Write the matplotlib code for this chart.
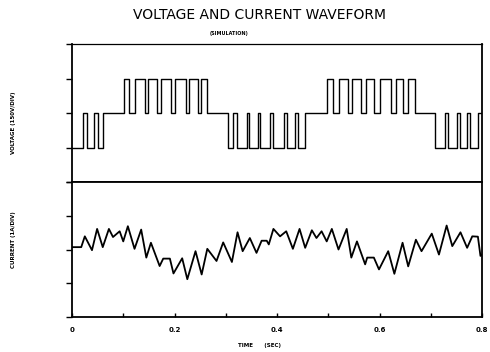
import numpy as np
import matplotlib
matplotlib.use("Agg")
import matplotlib.pyplot as plt

# voltage: switching instants (s) and level after each instant (divisions from centre)
volt_t = [0.000, 0.021, 0.029, 0.042, 0.051, 0.060, 0.101, 0.111, 0.122, 0.142,
          0.148, 0.166, 0.174, 0.193, 0.201, 0.222, 0.228, 0.246, 0.252, 0.263,
          0.3045, 0.314, 0.322, 0.341, 0.345, 0.363, 0.367, 0.386, 0.392, 0.414,
          0.419, 0.435, 0.441, 0.455, 0.498, 0.510, 0.521, 0.539, 0.546, 0.564,
          0.574, 0.589, 0.601, 0.622, 0.632, 0.646, 0.655, 0.669, 0.708, 0.728,
          0.734, 0.752, 0.757, 0.771, 0.777, 0.793, 0.800]
volt_v = [-1, 0, -1, 0, -1, 0, 1, 0, 1, 0,
          1, 0, 1, 0, 1, 0, 1, 0, 1, 0,
          -1, 0, -1, 0, -1, 0, -1, 0, -1, 0,
          -1, 0, -1, 0, 1, 0, 1, 0, 1, 0,
          1, 0, 1, 0, 1, 0, 1, 0, -1, 0,
          -1, 0, -1, 0, -1, 0, 0]

# current: sampled corners of the trace (s, divisions)
cur_t = [0.000, 0.018, 0.025, 0.039, 0.049, 0.060, 0.072, 0.080, 0.093, 0.100,
         0.109, 0.122, 0.135, 0.145, 0.154, 0.171, 0.178, 0.191, 0.198, 0.215,
         0.225, 0.241, 0.253, 0.264, 0.282, 0.295, 0.312, 0.323, 0.333, 0.347,
         0.360, 0.370, 0.380, 0.384, 0.393, 0.406, 0.418, 0.431, 0.444, 0.455,
         0.468, 0.477, 0.487, 0.497, 0.507, 0.520, 0.536, 0.545, 0.556, 0.572,
         0.576, 0.589, 0.599, 0.617, 0.629, 0.645, 0.656, 0.671, 0.682, 0.702,
         0.716, 0.731, 0.742, 0.758, 0.771, 0.781, 0.792, 0.797, 0.800]
cur_v = [0.07, 0.07, 0.39, -0.02, 0.61, 0.07, 0.61, 0.37, 0.54, 0.24,
         0.69, 0.02, 0.59, -0.24, 0.20, -0.49, -0.27, -0.27, -0.71, -0.26,
         -0.88, -0.05, -0.74, 0.02, -0.34, 0.21, -0.37, 0.51, -0.05, 0.34,
         -0.10, 0.26, 0.26, 0.15, 0.61, 0.39, 0.54, 0.02, 0.61, 0.05,
         0.57, 0.34, 0.54, 0.24, 0.61, 0.00, 0.61, -0.24, 0.24, -0.44,
         -0.24, -0.24, -0.59, -0.05, -0.72, 0.20, -0.50, 0.29, -0.05, 0.47,
         -0.15, 0.71, 0.10, 0.51, 0.05, 0.39, 0.38, -0.19, -0.15]

x_ticks = [0, 0.2, 0.4, 0.6, 0.8]
x_labels = ["0", "0.2", "0.4", "0.6", "0.8"]

W, H = 490, 352
fig = plt.figure(figsize=(W / 100, H / 100), dpi=100)
ax1 = fig.add_axes([72 / W, (H - 182) / H, 410 / W, 138 / H])
ax2 = fig.add_axes([72 / W, (H - 317) / H, 410 / W, 135 / H], sharex=ax1)

ax1.step(volt_t, volt_v, where="post", color="black", lw=1.0)
ax2.plot(cur_t, cur_v, color="black", lw=1.3)

for ax in (ax1, ax2):
    ax.set_xlim(0, 0.8)
    ax.set_ylim(-2, 2)
    ax.set_yticks([-2, -1, 0, 1, 2])
    ax.set_yticklabels([])
    ax.tick_params(axis="y", direction="out", length=4, width=1)
    for s in ax.spines.values():
        s.set_linewidth(1.3)
ax1.spines["top"].set_linewidth(0.9)

ax1.tick_params(axis="x", which="both", length=0, labelbottom=False)
ax2.set_xticks(x_ticks)
ax2.set_xticks([0.1, 0.3, 0.5, 0.7], minor=True)
ax2.set_xticklabels(x_labels, fontsize=5, fontweight="bold")
ax2.tick_params(axis="x", which="both", direction="in", length=3, width=1, pad=7)

fig.text(259 / W, 1 - 15 / H, "VOLTAGE AND CURRENT WAVEFORM", ha="center", va="center",
         fontsize=10, color="black")
fig.text(229 / W, 1 - 33 / H, "(SIMULATION)", ha="center", va="center", fontsize=3.5, fontweight="bold")
fig.text(14 / W, 1 - 123 / H, "VOLTAGE (150V/DIV)", rotation=90, ha="center", va="center",
         fontsize=4, fontweight="bold")
fig.text(14 / W, 1 - 240 / H, "CURRENT (1A/DIV)", rotation=90, ha="center", va="center",
         fontsize=4, fontweight="bold")
fig.text(259 / W, 1 - 346 / H, "TIME      (SEC)", ha="center", va="center", fontsize=4, fontweight="bold")

fig.savefig("out.png", dpi=100)
